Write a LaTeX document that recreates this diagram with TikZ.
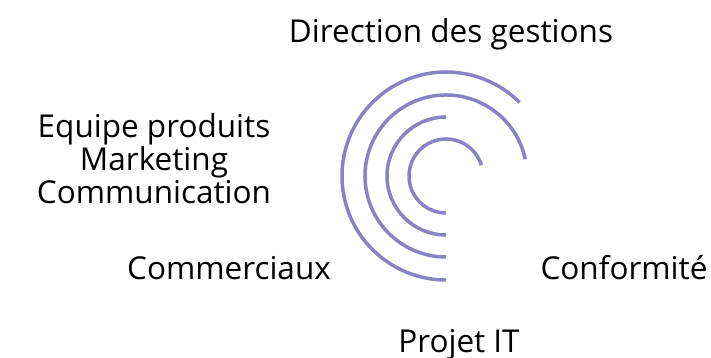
\documentclass[tikz,border=0pt]{standalone}
\usepackage{fontspec}
\setmainfont{Open Sans}
\definecolor{arccol}{HTML}{8783C6}
\tikzset{
  lbl/.style={inner sep=0pt, anchor=base, font=\fontsize{31.5}{33}\selectfont, text=black},
  ring/.style={draw=arccol, line width=3.5pt}
}
\begin{document}
\begin{tikzpicture}[x=1pt, y=1pt]
\useasboundingbox (0,0) rectangle (711,358);
\coordinate (c) at (446,182);
\draw[ring] (c) ++(45:104) arc[start angle=45, end angle=270, radius=104];
\draw[ring] (c) ++(12:81) arc[start angle=12, end angle=270, radius=81];
\draw[ring] (c) ++(90:59) arc[start angle=90, end angle=270, radius=59];
\draw[ring] (c) ++(17:37) arc[start angle=17, end angle=270, radius=37];
\node[lbl] (dir) at (451,315.3) {Direction des gestions};
\node[lbl, align=center] (equipe) at (154,154) {Equipe produits\\Marketing\\Communication};
\node[lbl] (comm) at (229,78) {Commerciaux};
\node[lbl] (conf) at (624,78) {Conformité};
\node[lbl] (proj) at (459,5.5) {Projet IT};
\end{tikzpicture}
\end{document}
